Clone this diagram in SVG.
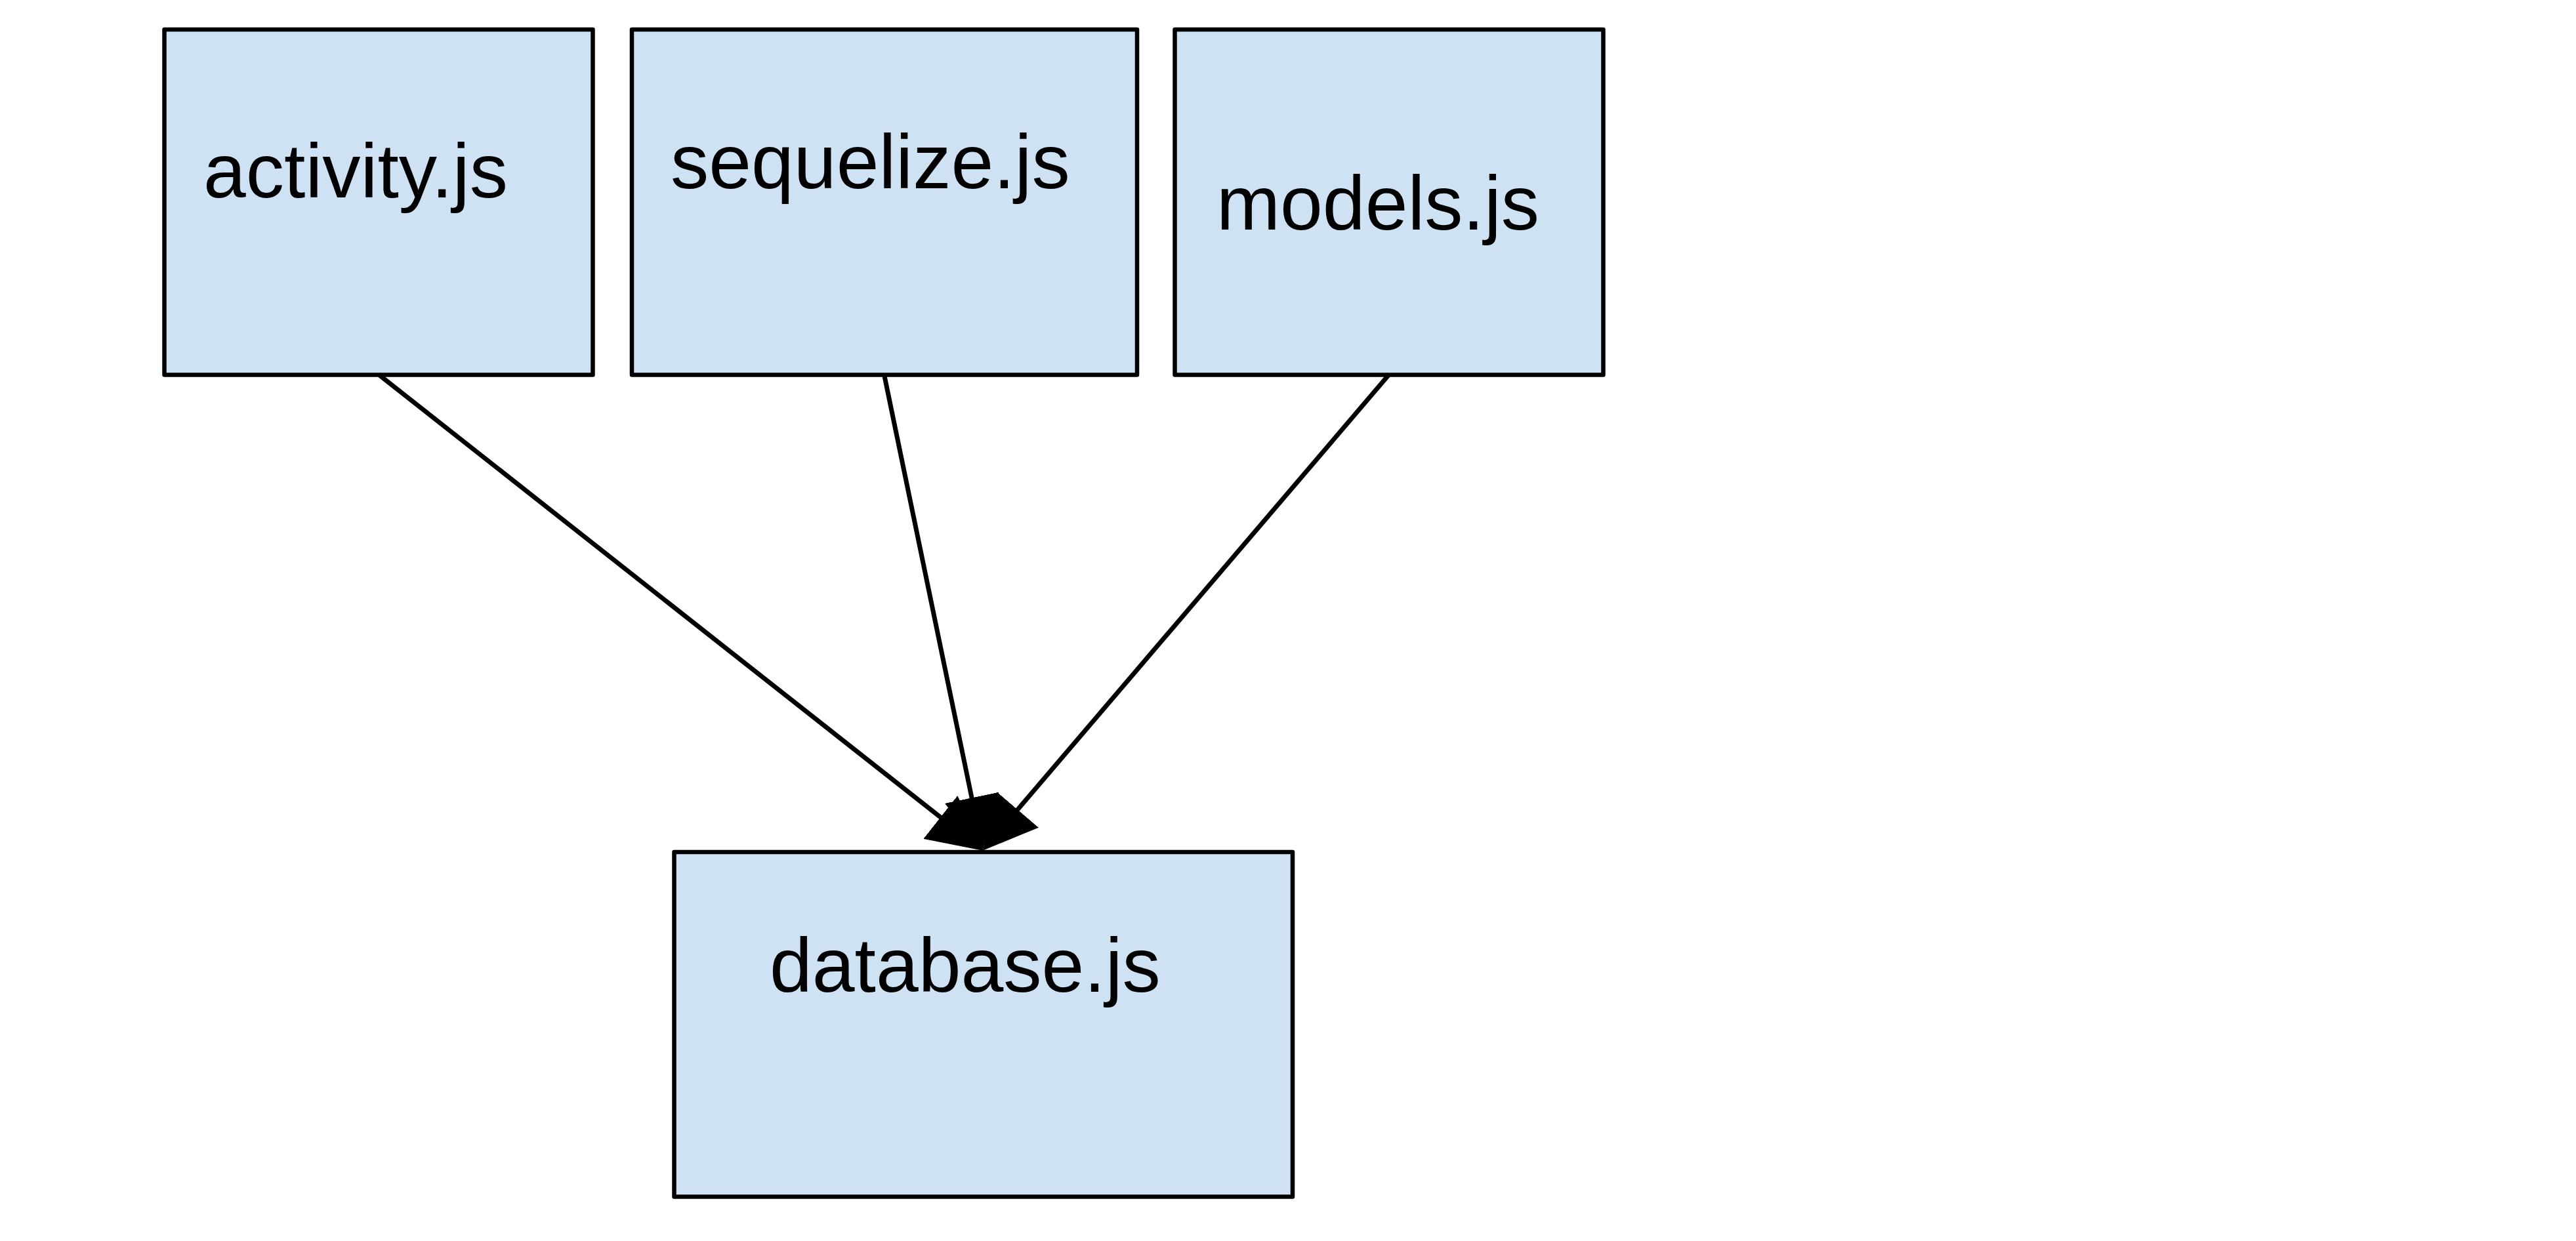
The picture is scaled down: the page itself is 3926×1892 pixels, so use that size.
<svg xmlns="http://www.w3.org/2000/svg" width="3926" height="1892" viewBox="0 0 3926 1892">
<style>
.box{fill:#cfe2f3;stroke:#000;stroke-width:6.5;stroke-linejoin:round}
.lbl{font-family:"Liberation Sans",Arial,sans-serif;font-size:116.5px;fill:#000}
.edge{fill:none;stroke:#000;stroke-width:7}
</style>
<defs>
<marker id="arrow" markerUnits="userSpaceOnUse" viewBox="0 0 82 84" markerWidth="82" markerHeight="84" refX="22" refY="42" orient="auto">
<path d="M0,0 L82,42 L0,84 Z" fill="#000"/>
</marker>
</defs>
<rect width="3926" height="1892" fill="#fff"/>
<g id="node-activity">
<rect class="box" x="250.5" y="45" width="653" height="526.5"/>
<text class="lbl" x="310" y="301">activity.js</text>
</g>
<g id="node-sequelize">
<rect class="box" x="963" y="45" width="770" height="526.5"/>
<text class="lbl" x="1022" y="287">sequelize.js</text>
</g>
<g id="node-models">
<rect class="box" x="1790.5" y="45" width="653" height="526.5"/>
<text class="lbl" x="1854" y="350">models.js</text>
</g>
<g id="node-database">
<rect class="box" x="1027.5" y="1299" width="942.5" height="525.5"/>
<text class="lbl" x="1173" y="1512">database.js</text>
</g>
<g id="connectors">
<path class="edge" d="M577,571 L1450.6,1259.6" marker-end="url(#arrow)"/>
<path class="edge" d="M1347.5,571 L1485.5,1237.9" marker-end="url(#arrow)"/>
<path class="edge" d="M2117,571 L1536.7,1251.1" marker-end="url(#arrow)"/>
</g>
</svg>
